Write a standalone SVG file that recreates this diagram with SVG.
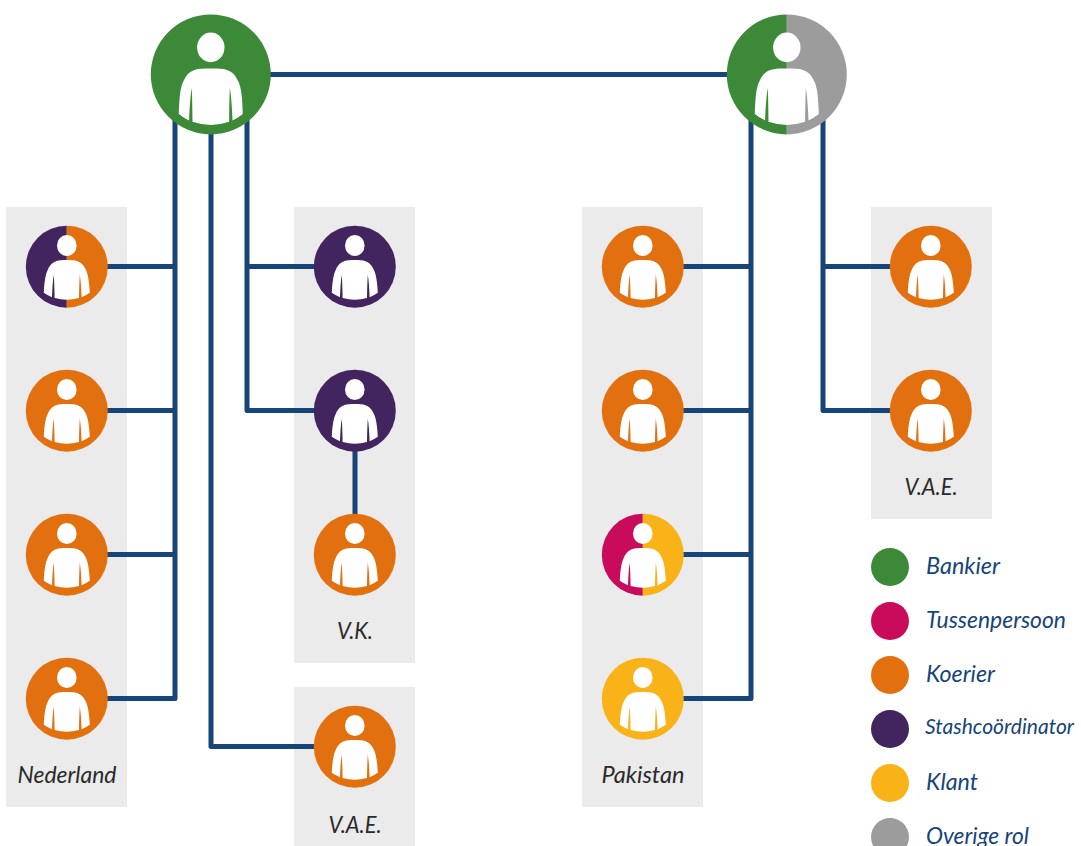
<svg xmlns="http://www.w3.org/2000/svg" width="1081" height="846" viewBox="0 0 1081 846">
<style>
.panel{fill:#ebebeb}
.link{fill:none;stroke:#17457a;stroke-width:5;stroke-linejoin:round;stroke-linecap:round}
.grn{fill:#3c8a37}.org{fill:#e3700e}.pur{fill:#42255e}.mag{fill:#c90b5c}.yel{fill:#fab219}.gry{fill:#9c9c9c}
.lab{font-family:"Lato","Open Sans",sans-serif;font-style:italic;font-size:24px;fill:#2a2a2a;text-anchor:middle}
.leg{font-family:"Lato","Open Sans",sans-serif;font-style:italic;font-size:24px;fill:#17457a}
</style>
<defs>
<path id="lh" d="M0,-41A41,41 0 0 0 0,41Z"/>
<path id="rh" d="M0,-41A41,41 0 0 1 0,41Z"/>
<path id="blh" d="M0,-60A60,60 0 0 0 0,60Z"/>
<path id="brh" d="M0,-60A60,60 0 0 1 0,60Z"/>
<g id="man" fill="#fff">
<ellipse cx="0" cy="-21.2" rx="9.8" ry="10.5"/>
<path d="M-23,26C-22.5,16 -21.5,8 -19,3C-16,-4 -11,-6.7 -3,-6.7L3,-6.7C11,-6.7 16,-4 19,3C21.5,8 22.5,16 23,26Q19,28.8 14.8,30.5C14.5,22 14,14 13,8C12.6,14 12.3,23 12.2,31.4Q6,33 0,33Q-6,33 -12.2,31.4C-12.3,23 -12.6,14 -13,8C-14,14 -14.5,22 -14.8,30.5Q-19,28.8 -23,26Z"/>
</g>
<g id="bigman" fill="#fff">
<ellipse cx="0" cy="-27" rx="13.7" ry="14.8"/>
<path d="M-32,39.5C-31.5,25 -31,13 -27,6C-23,-3 -17,-6 -5,-6L5,-6C17,-6 23,-3 27,6C31,13 31.5,25 32,39.5Q27,43.5 21.7,46C21.3,34 20.5,22 19,13.5C18.6,24 18.4,36 18.3,47.3Q9,50.5 0,50.5Q-9,50.5 -18.3,47.3C-18.4,36 -18.6,24 -19,13.5C-20.5,22 -21.3,34 -21.7,46Q-27,43.5 -32,39.5Z"/>
</g>
</defs>
<g id="panels">
<rect class="panel" x="6" y="207" width="121" height="600"/>
<rect class="panel" x="294" y="207" width="121" height="456"/>
<rect class="panel" x="294" y="687" width="121" height="159"/>
<rect class="panel" x="582" y="207" width="121" height="600"/>
<rect class="panel" x="871" y="207" width="121" height="312"/>
</g>
<g id="connectors">
<path class="link" d="M211,74.5H787"/>
<path class="link" d="M175,120V698.5H67M175,266.5H67M175,410.5H67M175,554.5H67"/>
<path class="link" d="M211,120V746.5H355"/>
<path class="link" d="M247,120V410.5H355M247,266.5H355"/>
<path class="link" d="M355,410.5V554.5"/>
<path class="link" d="M751,120V698.5H643M751,266.5H643M751,410.5H643M751,554.5H643"/>
<path class="link" d="M823,120V410.5H931M823,266.5H931"/>
</g>
<g id="bankier-1" transform="translate(210.8,74.4)"><circle class="grn" r="60"/><use href="#bigman"/></g>
<g id="bankier-2" transform="translate(786.8,74.4)"><use href="#blh" class="grn"/><use href="#brh" class="gry"/><use href="#bigman"/></g>
<g id="nl-1" transform="translate(66.8,266.7)"><use href="#lh" class="pur"/><use href="#rh" class="org"/><use href="#man"/></g>
<g id="nl-2" transform="translate(66.8,410.7)"><circle class="org" r="41"/><use href="#man"/></g>
<g id="nl-3" transform="translate(66.8,554.7)"><circle class="org" r="41"/><use href="#man"/></g>
<g id="nl-4" transform="translate(66.8,698.7)"><circle class="org" r="41"/><use href="#man"/></g>
<g id="vk-1" transform="translate(354.8,266.7)"><circle class="pur" r="41"/><use href="#man"/></g>
<g id="vk-2" transform="translate(354.8,410.7)"><circle class="pur" r="41"/><use href="#man"/></g>
<g id="vk-3" transform="translate(354.8,554.7)"><circle class="org" r="41"/><use href="#man"/></g>
<g id="vae-1" transform="translate(354.8,746.7)"><circle class="org" r="41"/><use href="#man"/></g>
<g id="pk-1" transform="translate(642.8,266.7)"><circle class="org" r="41"/><use href="#man"/></g>
<g id="pk-2" transform="translate(642.8,410.7)"><circle class="org" r="41"/><use href="#man"/></g>
<g id="pk-3" transform="translate(642.8,554.7)"><use href="#lh" class="mag"/><use href="#rh" class="yel"/><use href="#man"/></g>
<g id="pk-4" transform="translate(642.8,698.7)"><circle class="yel" r="41"/><use href="#man"/></g>
<g id="vae-2a" transform="translate(930.8,266.7)"><circle class="org" r="41"/><use href="#man"/></g>
<g id="vae-2b" transform="translate(930.8,410.7)"><circle class="org" r="41"/><use href="#man"/></g>
<g id="panel-labels">
<text class="lab" x="67" y="783" textLength="99" lengthAdjust="spacingAndGlyphs">Nederland</text>
<text class="lab" x="355" y="639" textLength="36" lengthAdjust="spacingAndGlyphs">V.K.</text>
<text class="lab" x="355" y="833" textLength="53" lengthAdjust="spacingAndGlyphs">V.A.E.</text>
<text class="lab" x="643" y="783" textLength="83" lengthAdjust="spacingAndGlyphs">Pakistan</text>
<text class="lab" x="931" y="495" textLength="53" lengthAdjust="spacingAndGlyphs">V.A.E.</text>
</g>
<g id="legend">
<circle class="grn" cx="890" cy="567" r="19"/><text class="leg" x="926" y="574" textLength="74" lengthAdjust="spacingAndGlyphs">Bankier</text>
<circle class="mag" cx="890" cy="621" r="19"/><text class="leg" x="926" y="628" textLength="140" lengthAdjust="spacingAndGlyphs">Tussenpersoon</text>
<circle class="org" cx="890" cy="675" r="19"/><text class="leg" x="926" y="682" textLength="69" lengthAdjust="spacingAndGlyphs">Koerier</text>
<circle class="pur" cx="890" cy="729" r="19"/><text class="leg" x="925" y="734" style="font-size:22px" textLength="149" lengthAdjust="spacingAndGlyphs">Stashcoördinator</text>
<circle class="yel" cx="890" cy="783" r="19"/><text class="leg" x="926" y="790" textLength="52" lengthAdjust="spacingAndGlyphs">Klant</text>
<circle class="gry" cx="890" cy="837" r="19"/><text class="leg" x="926" y="844" textLength="103" lengthAdjust="spacingAndGlyphs">Overige rol</text>
</g>
</svg>
